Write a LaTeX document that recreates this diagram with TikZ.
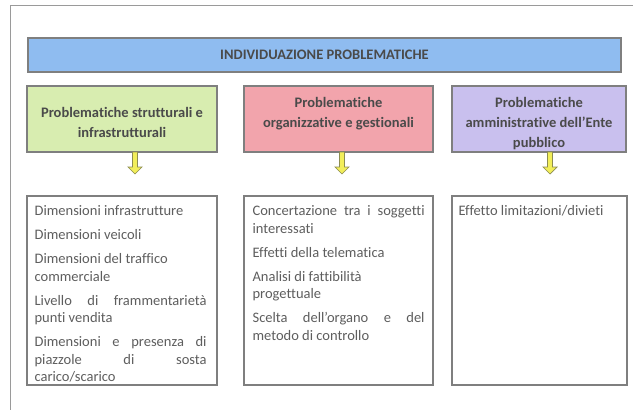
\documentclass[tikz,border=0pt]{standalone}
\usepackage{fontspec}
\setmainfont{Carlito}[Ligatures={NoCommon,NoRare,NoContextual}]
\usetikzlibrary{calc}
\definecolor{barblue}{HTML}{8FBCF0}
\definecolor{greenfill}{HTML}{D8EDB0}
\definecolor{pinkfill}{HTML}{F2A4AC}
\definecolor{purplefill}{HTML}{C9C0EE}
\definecolor{bordercol}{HTML}{7F7F7F}
\definecolor{titletext}{HTML}{4A4A4A}
\definecolor{bodytext}{HTML}{5E5E5E}
\definecolor{arrowfill}{HTML}{F2EE5A}
\definecolor{arrowline}{HTML}{8C8C50}
\definecolor{framecol}{HTML}{9A9A9A}
\newcommand\bodysetup{\hyphenpenalty=10000 \tolerance=10000 \parskip=6.5pt\relax}
\begin{document}
\begin{tikzpicture}[x=1pt,y=-1pt,
  bar/.style={draw=bordercol,line width=1.2pt,fill=barblue,minimum width=593pt,minimum height=34pt,inner sep=0pt,
    font=\fontsize{14.5}{17}\selectfont\bfseries,text=titletext},
  tbox/.style={draw=bordercol,line width=1.2pt,minimum height=66pt,inner sep=0pt},
  ttext/.style={align=center,inner sep=0pt,font=\fontsize{14.5}{20}\selectfont\bfseries,text=titletext},
  lbox/.style={draw=bordercol,line width=1.2pt,minimum height=189pt,inner sep=0pt},
  ltext/.style={anchor=north west,inner sep=0pt,text width=172pt,align=justify,text=bodytext,
    font=\fontsize{14.5}{17.5}\selectfont},
  yarrow/.style={fill=arrowfill,draw=arrowline,line width=0.7pt,line join=miter}
]
\useasboundingbox (0,0) rectangle (633,410);
\fill[white] (0,0) rectangle (633,410);
\draw[framecol,line width=1pt] (10,410) -- (10,5) -- (633,5);

\node[bar] (bar) at (324.5,55) {INDIVIDUAZIONE PROBLEMATICHE};

\node[tbox,fill=greenfill,minimum width=190pt] (g) at (122,119) {};
\node[tbox,fill=pinkfill,minimum width=189pt] (p) at (338.5,119) {};
\node[tbox,fill=purplefill,minimum width=174pt] (v) at (539,119) {};

\node[ttext] (gl) at (122,122.5) {Problematiche strutturali e\\infrastrutturali};
\node[ttext] (pl) at (338.5,114) {Problematiche\\organizzative e gestionali};
\node[ttext] (vl) at (539,124) {Problematiche\\amministrative dell’Ente\\pubblico};

\foreach \xx in {135,342,550}{
  \draw[yarrow] (\xx-2.5,152) -- (\xx-2.5,167) -- (\xx-7,167) -- (\xx,174) -- (\xx+7,167) -- (\xx+2.5,167) -- (\xx+2.5,152) -- cycle;
}

\node[lbox,minimum width=190pt] (lg) at (122,290.5) {};
\node[lbox,minimum width=189pt] (lp) at (338.5,290.5) {};
\node[lbox,minimum width=175pt] (lv) at (539.5,290.5) {};

\node[ltext] (tg) at ($(lg.north west)+(8,10)$) {\bodysetup
Dimensioni infrastrutture\par
Dimensioni veicoli\par
Dimensioni del traffico\\commerciale\par
Livello di frammentarietà\linebreak punti vendita\par
Dimensioni e presenza di\linebreak piazzole di sosta\linebreak carico/scarico\par};

\node[ltext] (tp) at ($(lp.north west)+(9,10)$) {\bodysetup
Concertazione tra i soggetti\linebreak interessati\par
Effetti della telematica\par
Analisi di fattibilità\\progettuale\par
Scelta dell’organo e del\linebreak metodo di controllo\par};

\node[ltext] (tv) at ($(lv.north west)+(7,10)$) {\bodysetup Effetto limitazioni/divieti};
\end{tikzpicture}
\end{document}
